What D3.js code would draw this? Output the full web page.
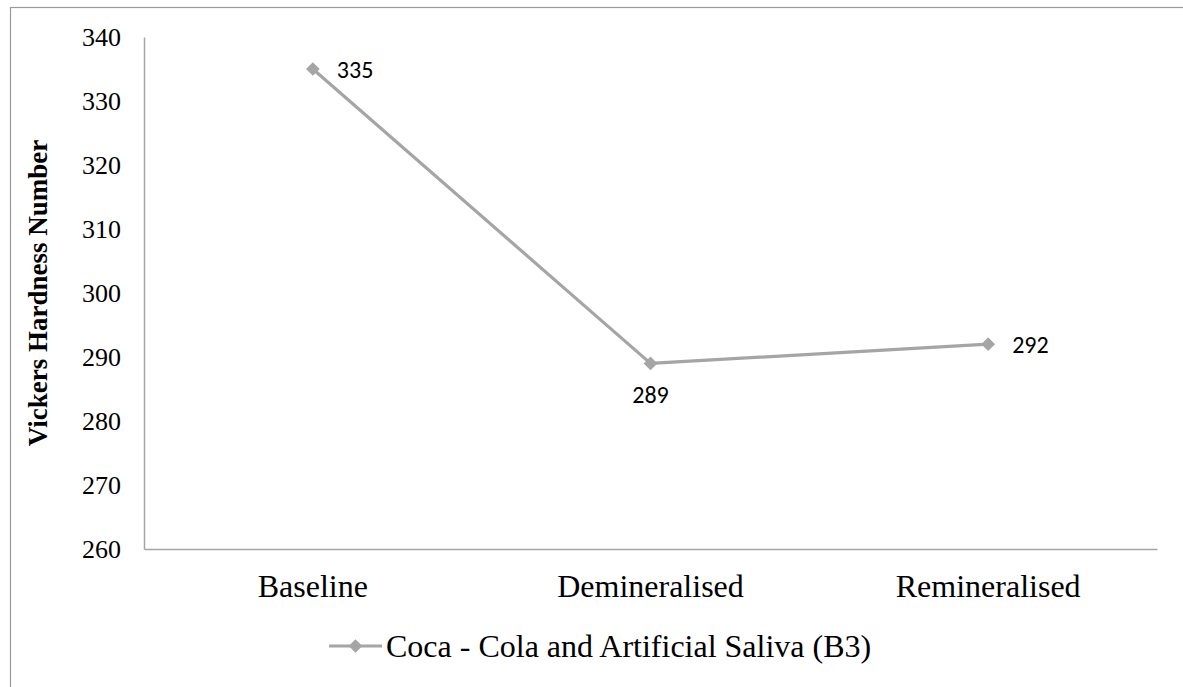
<!DOCTYPE html>
<html>
<head>
<meta charset="utf-8">
<script src="https://cdn.jsdelivr.net/npm/d3@7"></script>
<style>
  html, body { margin: 0; padding: 0; background: #fff; }
  svg { display: block; }
</style>
</head>
<body>
<svg id="chart" width="1183" height="687"></svg>
<script>
const categories = ["Baseline", "Demineralised", "Remineralised"];
const values = [335, 289, 292];
const yTicks = [260, 270, 280, 290, 300, 310, 320, 330, 340];
const seriesName = "Coca - Cola and Artificial Saliva (B3)";
const yTitle = "Vickers Hardness Number";
const labelPlacement = ["right", "below", "right"];

(function () {
const svg = d3.select("#chart");
const W = 1183, H = 687;
const mLeft = 144, mRight = 1157, mTop = 37, mBottom = 549;
const grey = "#a5a5a5";
const serif = "'Liberation Serif', 'Times New Roman', serif";
const sans = "Carlito, Lato, 'Open Sans', sans-serif";

// outer border
svg.append("rect").attr("x", 10.5).attr("y", 7.5).attr("width", W + 20).attr("height", H + 20)
  .attr("fill", "none").attr("stroke", "#9a9a9a").attr("stroke-width", 1.2);

const x = d3.scaleBand().domain(categories).range([mLeft, mRight]);
const y = d3.scaleLinear().domain([260, 340]).range([mBottom, mTop]);

// y axis
const yAxis = svg.append("g").attr("transform", `translate(${mLeft},0)`)
  .call(d3.axisLeft(y).tickValues(yTicks).tickSize(0).tickPadding(23).tickFormat(d3.format("d")));
yAxis.select(".domain").attr("stroke", grey).attr("stroke-width", 1.5);
yAxis.selectAll("text").attr("font-family", serif).attr("font-size", 26).attr("fill", "#000");

// x axis
const xAxis = svg.append("g").attr("transform", `translate(0,${mBottom})`)
  .call(d3.axisBottom(x).tickSize(0).tickPadding(25));
xAxis.select(".domain").attr("stroke", grey).attr("stroke-width", 1.5);
xAxis.selectAll("text").attr("font-family", serif).attr("font-size", 32).attr("fill", "#000");

// y title
svg.append("text")
  .attr("transform", `translate(38,${(mTop + mBottom) / 2}) rotate(-90)`)
  .attr("text-anchor", "middle").attr("dominant-baseline", "central")
  .attr("font-family", serif).attr("font-weight", "bold").attr("font-size", 27)
  .text(yTitle);

// line
const pts = categories.map((c, i) => [x(c) + x.bandwidth() / 2, y(values[i])]);
svg.append("path").datum(pts)
  .attr("d", d3.line())
  .attr("fill", "none").attr("stroke", grey).attr("stroke-width", 3.2).attr("stroke-linejoin", "round");

const diamond = d3.symbol().type(d3.symbolDiamond2).size(120);
svg.selectAll(".mk").data(pts).join("path")
  .attr("transform", d => `translate(${d[0]},${d[1]})`)
  .attr("d", diamond).attr("fill", grey);

// data labels
svg.selectAll(".lbl").data(pts).join("text")
  .attr("x", (d, i) => labelPlacement[i] === "right" ? d[0] + 24 : d[0])
  .attr("y", (d, i) => labelPlacement[i] === "right" ? d[1] : d[1] + 31)
  .attr("text-anchor", (d, i) => labelPlacement[i] === "right" ? "start" : "middle")
  .attr("dominant-baseline", "central")
  .attr("font-family", sans).attr("font-size", 24).attr("fill", "#000")
  .text((d, i) => values[i]);

// legend
const ly = 646;
svg.append("line").attr("x1", 329).attr("x2", 382).attr("y1", ly).attr("y2", ly)
  .attr("stroke", grey).attr("stroke-width", 3.2);
svg.append("path").attr("transform", `translate(355.5,${ly})`).attr("d", diamond).attr("fill", grey);
svg.append("text").attr("x", 386).attr("y", ly).attr("dominant-baseline", "central")
  .attr("font-family", serif).attr("font-size", 32).attr("fill", "#000").text(seriesName);
})();
</script>
</body>
</html>
